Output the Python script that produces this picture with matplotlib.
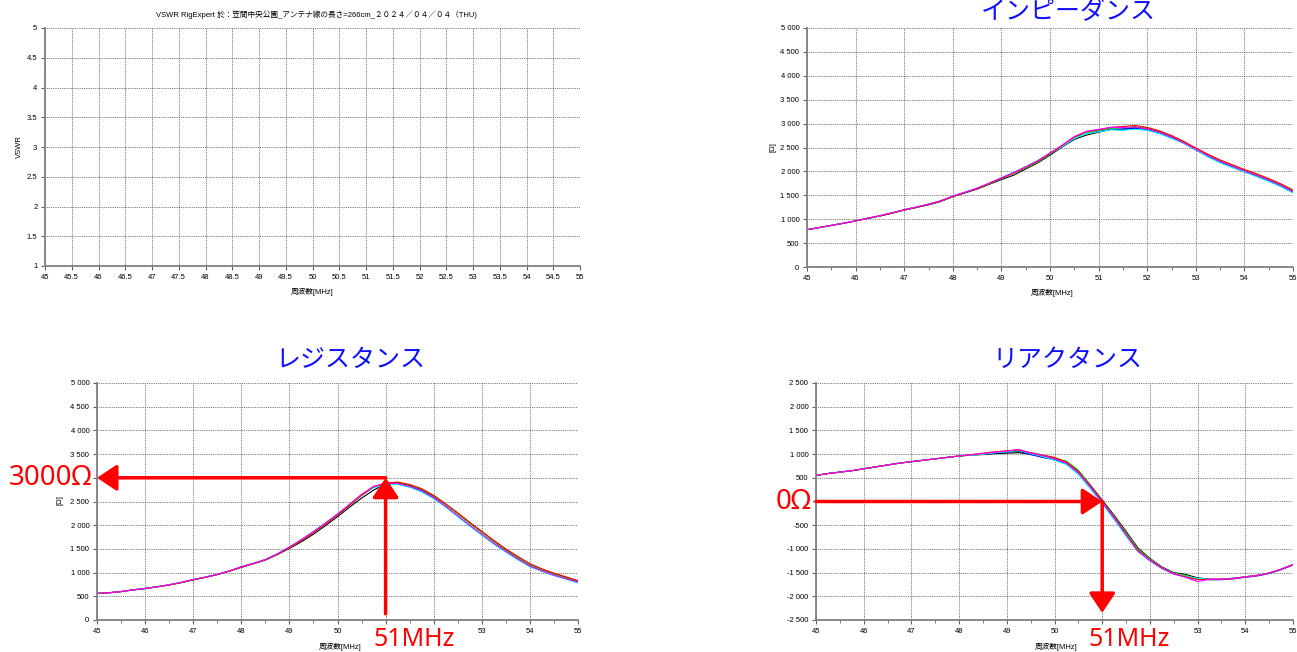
import matplotlib
matplotlib.use('Agg')
import matplotlib.pyplot as plt
from matplotlib.ticker import MultipleLocator, FuncFormatter

plt.rcParams['font.family'] = ['Liberation Sans', 'Noto Sans CJK JP']

W, H = 1297, 652

# frequency points [MHz]
freq = [45.0, 45.25, 45.5, 45.75, 46.0, 46.25, 46.5, 46.75, 47.0, 47.25,
        47.5, 47.75, 48.0, 48.25, 48.5, 48.75, 49.0, 49.25, 49.5, 49.75,
        50.0, 50.25, 50.5, 50.75, 51.0, 51.25, 51.5, 51.75, 52.0, 52.25,
        52.5, 52.75, 53.0, 53.25, 53.5, 53.75, 54.0, 54.25, 54.5, 54.75, 55.0]

# scilab default colour order
series_colors = ['#000000', '#0000ff', '#00dd00', '#00ffff', '#ff0000', '#ff00ff']

# impedance |Z| [ohm], one list per sweep
z_black = [780, 825, 870, 915, 965, 1015, 1065, 1125, 1190, 1245, 1300, 1370, 1470, 1550, 1630, 1730, 1830, 1920, 2050, 2180,
           2340, 2510, 2670, 2760, 2820, 2880, 2870, 2920, 2900, 2830, 2730, 2610, 2480, 2340, 2220, 2120, 2020, 1930, 1830, 1720, 1590]
z_blue = [780, 825, 870, 915, 965, 1020, 1070, 1130, 1195, 1250, 1310, 1380, 1480, 1560, 1640, 1750, 1860, 1970, 2090, 2220,
          2380, 2520, 2700, 2800, 2840, 2880, 2890, 2900, 2870, 2800, 2700, 2590, 2450, 2310, 2190, 2090, 1990, 1900, 1800, 1690, 1560]
z_green = [780, 825, 870, 915, 965, 1020, 1070, 1130, 1195, 1250, 1310, 1380, 1470, 1560, 1640, 1740, 1850, 1960, 2070, 2200,
           2360, 2530, 2710, 2800, 2860, 2900, 2920, 2930, 2910, 2840, 2740, 2620, 2470, 2340, 2230, 2120, 2020, 1930, 1830, 1720, 1590]
z_cyan = [780, 825, 870, 915, 965, 1020, 1070, 1135, 1200, 1255, 1315, 1385, 1485, 1565, 1650, 1755, 1870, 1980, 2100, 2230,
          2380, 2520, 2690, 2790, 2830, 2870, 2860, 2880, 2860, 2790, 2690, 2590, 2460, 2300, 2180, 2080, 1990, 1890, 1790, 1680, 1550]
z_red = [780, 825, 870, 915, 965, 1020, 1070, 1130, 1195, 1250, 1310, 1380, 1475, 1560, 1640, 1745, 1855, 1965, 2085, 2215,
         2375, 2540, 2720, 2830, 2870, 2920, 2940, 2960, 2920, 2850, 2750, 2630, 2490, 2360, 2240, 2140, 2040, 1950, 1850, 1740, 1610]
z_magenta = [780, 825, 870, 915, 965, 1020, 1075, 1135, 1200, 1255, 1315, 1385, 1485, 1565, 1650, 1755, 1865, 1975, 2095, 2225,
             2385, 2550, 2730, 2840, 2880, 2920, 2920, 2930, 2890, 2820, 2720, 2600, 2470, 2330, 2210, 2110, 2010, 1920, 1820, 1710, 1580]

# resistance R [ohm]
r_black = [560, 575, 600, 635, 665, 700, 740, 790, 850, 900, 960, 1030, 1110, 1190, 1265, 1380, 1510, 1650, 1810, 1990,
           2180, 2380, 2570, 2740, 2870, 2890, 2840, 2750, 2610, 2440, 2250, 2050, 1860, 1660, 1480, 1310, 1160, 1060, 970, 900, 820]
r_blue = [560, 575, 600, 635, 665, 700, 740, 790, 850, 900, 960, 1030, 1120, 1190, 1270, 1390, 1530, 1690, 1860, 2040,
          2230, 2430, 2640, 2800, 2860, 2870, 2810, 2720, 2570, 2390, 2190, 1990, 1800, 1610, 1440, 1280, 1130, 1030, 940, 870, 790]
r_green = [560, 575, 600, 635, 665, 700, 740, 790, 850, 900, 960, 1030, 1120, 1190, 1270, 1385, 1525, 1675, 1845, 2025,
           2215, 2415, 2625, 2800, 2880, 2900, 2850, 2760, 2620, 2440, 2240, 2040, 1850, 1660, 1480, 1310, 1160, 1060, 970, 890, 810]
r_cyan = [560, 575, 600, 635, 665, 700, 745, 795, 855, 905, 965, 1035, 1125, 1200, 1280, 1400, 1545, 1700, 1870, 2050,
          2240, 2440, 2640, 2790, 2850, 2860, 2800, 2700, 2560, 2380, 2180, 1980, 1790, 1600, 1430, 1270, 1130, 1030, 940, 860, 780]
r_red = [560, 575, 600, 635, 665, 700, 740, 790, 850, 900, 960, 1030, 1115, 1190, 1270, 1385, 1525, 1675, 1845, 2025,
         2215, 2420, 2630, 2810, 2890, 2910, 2860, 2770, 2630, 2450, 2260, 2060, 1870, 1680, 1500, 1340, 1190, 1080, 990, 910, 830]
r_magenta = [560, 575, 600, 635, 665, 700, 745, 795, 855, 905, 965, 1035, 1125, 1195, 1275, 1395, 1540, 1695, 1865, 2045,
             2235, 2440, 2650, 2820, 2880, 2880, 2820, 2730, 2580, 2400, 2200, 2000, 1810, 1620, 1450, 1290, 1140, 1040, 950, 870, 800]

# reactance X [ohm]
x_black = [550, 590, 620, 650, 690, 730, 770, 810, 840, 870, 900, 930, 960, 980, 990, 1010, 1020, 1030, 1000, 960,
           910, 840, 650, 350, 30, -290, -630, -980, -1200, -1380, -1500, -1540, -1610, -1640, -1640, -1620, -1590, -1560, -1510, -1430, -1330]
x_blue = [550, 590, 620, 650, 690, 730, 770, 810, 840, 870, 900, 930, 960, 980, 1000, 1020, 1040, 1060, 990, 930,
          880, 800, 600, 300, -20, -360, -710, -1050, -1250, -1410, -1530, -1590, -1630, -1650, -1650, -1630, -1600, -1570, -1520, -1440, -1340]
x_green = [550, 590, 620, 650, 690, 730, 770, 810, 840, 870, 900, 930, 960, 980, 1000, 1030, 1050, 1070, 1030, 980,
           920, 850, 660, 340, 10, -310, -660, -1000, -1210, -1390, -1510, -1560, -1640, -1650, -1640, -1620, -1590, -1560, -1510, -1430, -1330]
x_cyan = [550, 590, 620, 650, 690, 730, 770, 810, 840, 870, 900, 930, 960, 980, 1000, 1030, 1050, 1090, 1010, 950,
          870, 780, 570, 270, -50, -380, -730, -1060, -1240, -1400, -1520, -1580, -1620, -1640, -1640, -1620, -1590, -1560, -1510, -1430, -1330]
x_red = [550, 590, 620, 650, 690, 730, 770, 810, 840, 870, 900, 930, 960, 990, 1020, 1050, 1070, 1090, 1030, 980,
         930, 830, 630, 330, 10, -320, -690, -1030, -1230, -1400, -1520, -1590, -1650, -1640, -1640, -1630, -1590, -1560, -1510, -1430, -1330]
x_magenta = [550, 590, 620, 650, 690, 730, 770, 810, 840, 870, 900, 930, 960, 985, 1010, 1040, 1060, 1100, 1020, 970,
             900, 810, 610, 310, -10, -340, -700, -1050, -1230, -1400, -1520, -1600, -1690, -1640, -1640, -1620, -1590, -1560, -1510, -1430, -1330]

z_series = [z_black, z_blue, z_green, z_cyan, z_red, z_magenta]
r_series = [r_black, r_blue, r_green, r_cyan, r_red, r_magenta]
x_series = [x_black, x_blue, x_green, x_cyan, x_red, x_magenta]

vswr_title = 'VSWR RigExpert 於：笠間中央公園_アンテナ線の長さ=266cm_２０２４／０４／０４（THU)'
xlabel_text = '周波数[MHz]'


def px_rect(left, top, right, bottom):
    return [left / W, 1 - bottom / H, (right - left) / W, (bottom - top) / H]


def thousands_except(hidden):
    # tick labels that the pasted red notes cover in the original are left blank
    def fmt(v, pos):
        if any(abs(v - h) < 1e-6 for h in hidden):
            return ''
        return '{:,}'.format(int(round(v))).replace(',', ' ')
    return fmt


def xfmt_except(hidden):
    def fmt(v, pos):
        if any(abs(v - h) < 1e-6 for h in hidden):
            return ''
        return '%g' % v
    return fmt


def setup_axes(ax, ylim, ystep, xstep, yfmt, xfmt, minor=True):
    ax.set_xlim(45, 55)
    ax.set_ylim(*ylim)
    ax.xaxis.set_major_locator(MultipleLocator(xstep))
    ax.yaxis.set_major_locator(MultipleLocator(ystep))
    if minor:
        ax.xaxis.set_minor_locator(MultipleLocator(0.5))
    ax.xaxis.set_major_formatter(FuncFormatter(xfmt))
    ax.yaxis.set_major_formatter(FuncFormatter(yfmt))
    ax.grid(True, which='major', color='#505050', linestyle=(0, (1, 1.2)), linewidth=0.6)
    for s in ['top', 'right']:
        ax.spines[s].set_visible(False)
    for s in ['left', 'bottom']:
        ax.spines[s].set_color('#808080')
        ax.spines[s].set_linewidth(1.3)
    ax.tick_params(which='major', labelsize=5.5, length=3, width=0.8, color='#606060', pad=2.5)
    ax.tick_params(which='minor', length=1.8, width=0.6, color='#606060')


def plot_sweeps(ax, series):
    for vals, c in zip(series, series_colors):
        ax.plot(freq, vals, color=c, linewidth=0.8)


def red_arrow(ax, tail, head):
    ax.annotate('', xy=head, xytext=tail, annotation_clip=False,
                arrowprops=dict(arrowstyle='-|>,head_length=0.6,head_width=0.4',
                                color='red', lw=2.5, mutation_scale=20,
                                shrinkA=0, shrinkB=0))


def red_label(x, y, s, ha, size=20):
    fig.text(x / W, 1 - y / H, s, ha=ha, va='center', fontsize=size, color='red',
             family=['Noto Sans', 'DejaVu Sans'], zorder=10,
             bbox=dict(facecolor='white', edgecolor='none', pad=0.5))


fig = plt.figure(figsize=(W / 100, H / 100), dpi=100)
plain = xfmt_except([])

# VSWR (empty, everything above 5)
ax1 = fig.add_axes(px_rect(45, 28, 580, 266))
setup_axes(ax1, (1, 5), 0.5, 0.5, lambda v, p: '%g' % v, plain, minor=False)
fig.text(316 / W, 1 - 15 / H, vswr_title, ha='center', va='center', fontsize=5.5)
fig.text(312 / W, 1 - 292 / H, xlabel_text, ha='center', va='center', fontsize=5.5)
fig.text(19 / W, 1 - 147 / H, 'VSWR', ha='center', va='center', fontsize=5.5, rotation=90)

# impedance
ax2 = fig.add_axes(px_rect(807, 28, 1293, 267))
setup_axes(ax2, (0, 5000), 500, 1, thousands_except([]), plain)
plot_sweeps(ax2, z_series)
fig.text(1068 / W, 1 - 19 / H, 'インピーダンス', ha='center', va='baseline',
         fontsize=18, color='#1010ff', family=['Noto Sans CJK JP'])
fig.text(1052 / W, 1 - 293 / H, xlabel_text, ha='center', va='center', fontsize=5.5)
fig.text(773 / W, 1 - 147 / H, '[Ω]', ha='center', va='center', fontsize=5.5, rotation=90)

# resistance
ax3 = fig.add_axes(px_rect(97, 383, 578, 620))
setup_axes(ax3, (0, 5000), 500, 1, thousands_except([3000]), xfmt_except([51, 52]))
plot_sweeps(ax3, r_series)
fig.text(350 / W, 1 - 360 / H, 'レジスタンス', ha='center', va='center',
         fontsize=18, color='#1010ff', family=['Noto Sans CJK JP'])
fig.text(340 / W, 1 - 647 / H, xlabel_text, ha='center', va='center', fontsize=5.5)
fig.text(60 / W, 1 - 500 / H, '[Ω]', ha='center', va='center', fontsize=5.5, rotation=90)
red_arrow(ax3, (51, 3000), (45, 3000))
red_arrow(ax3, (51, 130), (51, 3000))
red_label(92, 478, '3000Ω', 'right')
red_label(373, 640, '51MHz', 'left', size=18)

# reactance
ax4 = fig.add_axes(px_rect(816, 383, 1293, 620))
setup_axes(ax4, (-2500, 2500), 500, 1, thousands_except([0]), xfmt_except([51, 52]))
plot_sweeps(ax4, x_series)
fig.text(1067 / W, 1 - 360 / H, 'リアクタンス', ha='center', va='center',
         fontsize=18, color='#1010ff', family=['Noto Sans CJK JP'])
fig.text(1056 / W, 1 - 647 / H, xlabel_text, ha='center', va='center', fontsize=5.5)
red_arrow(ax4, (45, 0), (51, 0))
red_arrow(ax4, (51, 0), (51, -2350))
red_label(812, 502, '0Ω', 'right')
red_label(1088, 640, '51MHz', 'left', size=18)

fig.savefig('out.png', dpi=100)
